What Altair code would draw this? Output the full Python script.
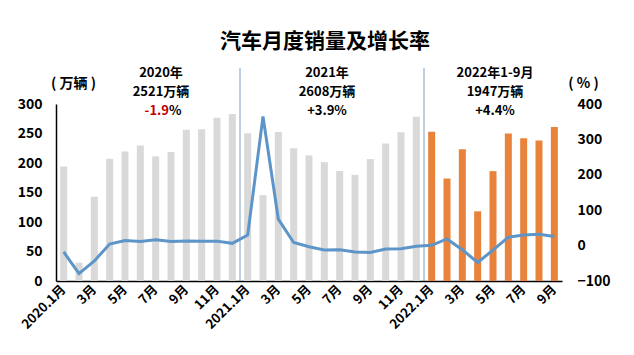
import altair as alt
import pandas as pd
import json

years = [2020] * 12 + [2021] * 12 + [2022] * 9
months = list(range(1, 13)) + list(range(1, 13)) + list(range(1, 10))
idx = list(range(len(years)))
tick_labels = [(f"{y}.{m}月" if m == 1 else (f"{m}月" if m % 2 == 1 else ""))
               for y, m in zip(years, months)]

sales = [194.2, 31.0, 143.0, 207.0, 219.4, 229.6, 211.2, 218.6, 256.5, 257.3, 276.5, 283.1,
         250.3, 145.5, 252.6, 225.2, 212.8, 201.5, 186.4, 179.9, 206.7, 233.2, 252.2, 278.6,
         253.1, 173.7, 223.4, 118.1, 186.2, 250.2, 242.0, 238.3, 261.0]
growth = [-18.0, -79.1, -43.3, 4.4, 14.5, 11.6, 16.4, 11.6, 12.8, 12.5, 12.6, 6.4,
          29.5, 364.6, 74.9, 8.6, -3.1, -12.4, -11.9, -17.8, -19.6, -9.4, -9.1, -1.6,
          0.9, 18.7, -11.7, -47.6, -12.6, 23.8, 29.7, 32.1, 25.7]

title_text = "汽车月度销量及增长率"
ann_year = ["2020年", "2021年", "2022年1-9月"]
ann_total = ["2521万辆", "2608万辆", "1947万辆"]
ann_rate = ["-1.9", "+3.9%", "+4.4%"]
separators = [12, 24]

df = pd.DataFrame({"i": idx, "year": years, "sales": sales, "growth": growth})

FONT = "Noto Sans CJK SC"
GREY = "#D9D9D9"
ORANGE = "#E9833C"
BLUE = "#5E95C9"

label_expr = json.dumps(tick_labels, ensure_ascii=False) + "[datum.value]"

xenc = alt.X("i:O", sort=idx, title=None,
             scale=alt.Scale(paddingInner=0, paddingOuter=0),
             axis=alt.Axis(labelAngle=-45, labelExpr=label_expr, labelFont=FONT,
                           labelFontSize=13, labelFontWeight="bold", labelColor="black",
                           labelAlign="right", labelBaseline="middle", labelPadding=6,
                           ticks=False, domainColor="black", domainWidth=1.5,
                           labelOverlap=False))

bars = alt.Chart(df).mark_bar(size=7).encode(
    x=xenc,
    y=alt.Y("sales:Q", scale=alt.Scale(domain=[0, 300], nice=False),
            axis=alt.Axis(values=[0, 50, 100, 150, 200, 250, 300], grid=False, ticks=False,
                          domainColor="black", domainWidth=1.5, labelFont=FONT,
                          labelFontSize=14, labelFontWeight="bold", labelColor="black",
                          labelPadding=14, title="( 万辆 )", titleAngle=0, titleX=17,
                          titleY=-21, titleAlign="center", titleBaseline="middle",
                          titleFont=FONT, titleFontSize=14, titleFontWeight="bold",
                          titleColor="black")),
    color=alt.condition("datum.year == 2022", alt.value(ORANGE), alt.value(GREY)),
)

rules = alt.Chart(pd.DataFrame({"i": separators})).mark_rule(
    color="#7F9FBF", strokeWidth=1).encode(
    x=alt.X("i:O", sort=idx, bandPosition=0),
    y=alt.value(-36), y2=alt.value(177))

line = alt.Chart(df).mark_line(color=BLUE, strokeWidth=3).encode(
    x=alt.X("i:O", sort=idx),
    y=alt.Y("growth:Q", scale=alt.Scale(domain=[-100, 400], nice=False),
            axis=alt.Axis(orient="right", values=[-100, 0, 100, 200, 300, 400], grid=False,
                          ticks=False, domain=False, labelFont=FONT, labelFontSize=14,
                          labelFontWeight="bold", labelColor="black", labelPadding=15,
                          title="( % )", titleAngle=0, titleX=21, titleY=-21,
                          titleAlign="center", titleBaseline="middle", titleFont=FONT,
                          titleFontSize=14, titleFontWeight="bold", titleColor="black")),
)


def txt(t, x, y, size=13, color="black", align="center"):
    return alt.Chart(pd.DataFrame({"t": [t]})).mark_text(
        font=FONT, fontSize=size, fontWeight="bold", color=color, align=align,
        baseline="middle").encode(text="t:N", x=alt.value(x), y=alt.value(y))


ann_x = [105, 271, 439]
texts = [txt(title_text, 269, -62, size=21)]
for i in range(3):
    texts.append(txt(ann_year[i], ann_x[i], -31))
    texts.append(txt(ann_total[i], ann_x[i], -12))
texts.append(txt(ann_rate[0], ann_x[0] + 8, 7, color="#C00000", align="right"))
texts.append(txt("%", ann_x[0] + 8, 7, align="left"))
texts.append(txt(ann_rate[1], ann_x[1], 7))
texts.append(txt(ann_rate[2], ann_x[2], 7))

chart = alt.layer(bars, rules, line, *texts).resolve_scale(y="independent").properties(
    width=506, height=177,
    autosize=alt.AutoSizeParams(type="none"),
    padding={"left": 56, "top": 104, "right": 72, "bottom": 74},
    background="white",
).configure_view(stroke=None)

chart.save("out.html", embed_options={"renderer": "svg", "actions": False})
